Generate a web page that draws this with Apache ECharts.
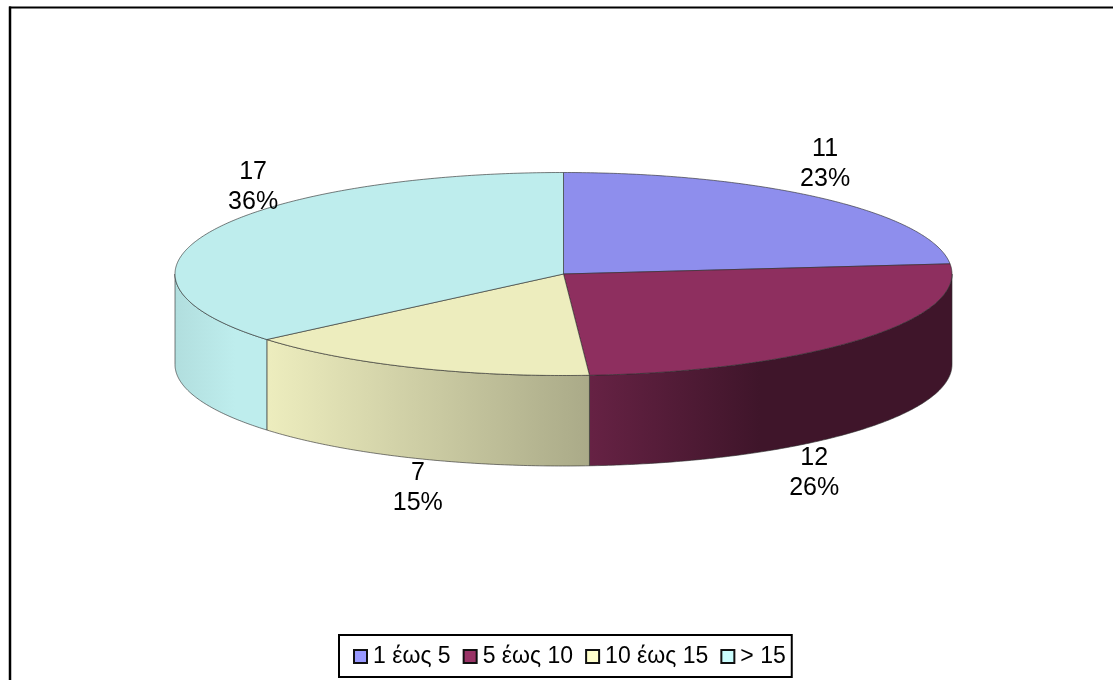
<!DOCTYPE html>
<html>
<head>
<meta charset="utf-8">
<style>html,body{margin:0;padding:0;background:#fff}#chart{width:1113px;height:680px}</style>
<script src="https://cdn.jsdelivr.net/npm/echarts@6/dist/echarts.min.js"></script>
</head>
<body>
<div id="chart"></div>
<script>
var categories = ['1 έως 5', '5 έως 10', '10 έως 15', '> 15'];
var counts = [11, 12, 7, 17];

var baseColors = ['#9999ff', '#993366', '#ffffcc', '#ccffff'];
var FONT = '"Liberation Sans", Arial, sans-serif';
var W = 1113;
var PIE = {cx: 563.5, cy: 274, rx: 388.5, ry: 101.5, depth: 90.5, topLight: 0.93};
var SIDE_LIGHT = [[175, 0.87], [235, 0.93], [267, 0.93], [590, 0.667], [680, 0.53], [760, 0.41], [952, 0.41]];
// Label anchor relative to the rim point at each slice's mid-angle (px)
var LABEL_SHIFT = [[1, -35], [-46, 43], [6, 30], [42, -44]];

var total = counts.reduce(function (a, b) { return a + b; }, 0);

function shade(hex, k) {
  var n = parseInt(hex.slice(1), 16);
  var r = Math.round(((n >> 16) & 255) * k), g = Math.round(((n >> 8) & 255) * k), b = Math.round((n & 255) * k);
  return 'rgb(' + r + ',' + g + ',' + b + ')';
}
function rim(theta, dy) {
  return [PIE.cx + PIE.rx * Math.sin(theta), PIE.cy - PIE.ry * Math.cos(theta) + (dy || 0)];
}
function arc(a0, a1, dy) {
  var pts = [], n = Math.max(2, Math.ceil((a1 - a0) / 0.01));
  for (var i = 0; i <= n; i++) pts.push(rim(a0 + (a1 - a0) * i / n, dy));
  return pts;
}
function sideGradient(hex) {
  return {
    type: 'linear', global: true, x: 0, y: 0, x2: W, y2: 0,
    colorStops: SIDE_LIGHT.map(function (s) { return {offset: s[0] / W, color: shade(hex, s[1])}; })
  };
}
var EDGE = 'rgba(45,45,45,0.62)';

function makeRenderer(index) {
  var before = counts.slice(0, index).reduce(function (a, b) { return a + b; }, 0);
  return function (params, api) {
    var value = api.value(0);
    var a0 = before / total * 2 * Math.PI;
    var a1 = (before + value) / total * 2 * Math.PI;
    var hex = baseColors[index];
    var children = [];
    var s0 = Math.max(a0, Math.PI / 2), s1 = Math.min(a1, 3 * Math.PI / 2);
    if (s1 > s0) {
      children.push({
        type: 'polygon', z2: 1,
        shape: {points: arc(s0, s1, 0).concat(arc(s0, s1, PIE.depth).reverse())},
        style: {fill: sideGradient(hex), stroke: EDGE, lineWidth: 1}
      });
    }
    children.push({
      type: 'polygon', z2: 2,
      shape: {points: [[PIE.cx, PIE.cy]].concat(arc(a0, a1, 0))},
      style: {fill: shade(hex, PIE.topLight), stroke: EDGE, lineWidth: 1}
    });
    var mid = rim((a0 + a1) / 2, 0);
    var shift = LABEL_SHIFT[index];
    var below = mid[1] > PIE.cy;
    children.push({
      type: 'text', z2: 10,
      style: {
        x: mid[0] + shift[0],
        y: mid[1] + (below ? PIE.depth : 0) + shift[1],
        text: value + '\n' + Math.round(value / total * 100) + '%',
        fill: '#000', align: 'center', verticalAlign: 'middle',
        font: '25px ' + FONT, lineHeight: 30
      }
    });
    return {type: 'group', children: children};
  };
}

var chart = echarts.init(document.getElementById('chart'), null, {renderer: 'canvas', width: W, height: 680});
chart.setOption({
  animation: false,
  backgroundColor: '#fff',
  graphic: [
    {type: 'line', shape: {x1: 9, y1: 7.5, x2: W, y2: 7.5}, style: {stroke: '#000', lineWidth: 2}},
    {type: 'line', shape: {x1: 10, y1: 6.5, x2: 10, y2: 680}, style: {stroke: '#000', lineWidth: 2.5}}
  ],
  legend: {
    data: categories,
    icon: 'rect',
    left: 339, top: 635,
    orient: 'horizontal',
    padding: [10, 6, 9, 14],
    itemWidth: 13, itemHeight: 13, itemGap: 12,
    borderColor: '#000', borderWidth: 2, backgroundColor: '#fff',
    itemStyle: {borderColor: '#111', borderWidth: 2},
    textStyle: {fontFamily: FONT, fontSize: 23, color: '#000', padding: [0, 0, 0, 1]}
  },
  series: categories.map(function (name, i) {
    return {
      type: 'custom', name: name, coordinateSystem: 'none', silent: true,
      itemStyle: {color: baseColors[i]},
      data: [[counts[i]]],
      renderItem: makeRenderer(i)
    };
  })
});
</script>
</body>
</html>
